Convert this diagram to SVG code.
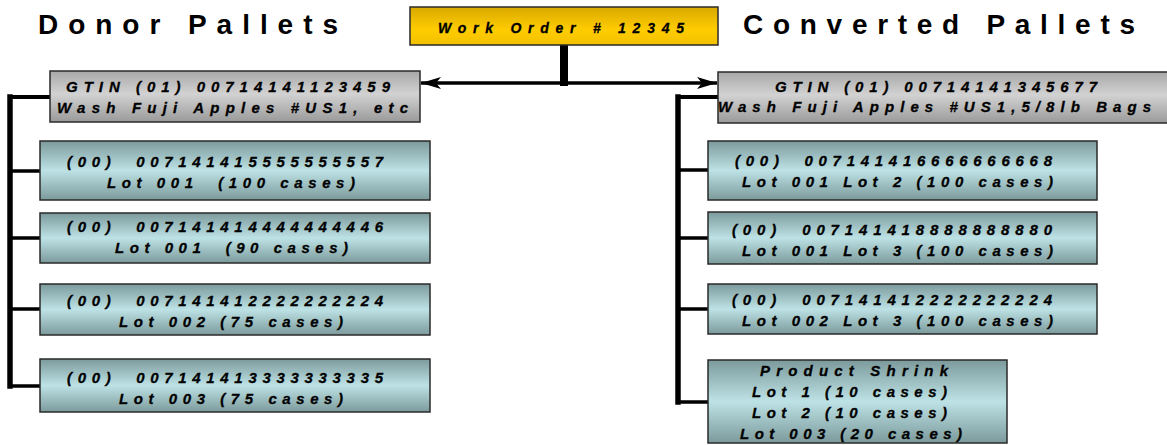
<svg xmlns="http://www.w3.org/2000/svg" width="1167" height="445" viewBox="0 0 1167 445">
<defs>
<linearGradient id="gLot" x1="0" y1="0" x2="0" y2="1">
<stop offset="0" stop-color="#7c9a9c"/>
<stop offset="0.5" stop-color="#bde2e5"/>
<stop offset="1" stop-color="#7c9a9c"/>
</linearGradient>
<linearGradient id="gGray" x1="0" y1="0" x2="0" y2="1">
<stop offset="0" stop-color="#a8a8a8"/>
<stop offset="0.45" stop-color="#d2d2d2"/>
<stop offset="1" stop-color="#9a9a9a"/>
</linearGradient>
<linearGradient id="gGold" x1="0" y1="0" x2="0" y2="1">
<stop offset="0" stop-color="#d9a800"/>
<stop offset="0.6" stop-color="#ffcc00"/>
<stop offset="1" stop-color="#f2c000"/>
</linearGradient>
<marker id="arr" viewBox="0 0 20 12" refX="20" refY="6" markerWidth="20" markerHeight="12" markerUnits="userSpaceOnUse" orient="auto">
<path d="M0,0 L20,6 L0,12 L5,6 Z" fill="#000"/>
</marker>
<style>
.title{font-family:"Liberation Sans",Arial,sans-serif;font-weight:bold;font-size:28px;fill:#000}
.t{font-family:"Liberation Sans",Arial,sans-serif;font-weight:bold;font-style:italic;font-size:15px;fill:#000;stroke:#000;stroke-width:0.3}
.wo{font-family:"Liberation Sans",Arial,sans-serif;font-weight:bold;font-style:italic;font-size:14px;fill:#000;stroke:#000;stroke-width:0.3}
.lot{fill:url(#gLot);stroke:#2a2a2a;stroke-width:1.5}
.gray{fill:url(#gGray);stroke:#2a2a2a;stroke-width:1.5}
.gold{fill:url(#gGold);stroke:#2a2a2a;stroke-width:1.5}
.c{fill:none;stroke:#000;stroke-linejoin:miter;stroke-linecap:square}
</style>
</defs>
<rect width="1167" height="445" fill="#fff"/>

<g id="title-donor"><text class="title" x="38" y="34" textLength="300" lengthAdjust="spacing">Donor Pallets</text></g>
<g id="title-converted"><text class="title" x="743" y="34" textLength="392" lengthAdjust="spacing">Converted Pallets</text></g>

<g id="connectors">
<line x1="564" y1="45" x2="564" y2="86" stroke="#000" stroke-width="8"/>
<line x1="564" y1="83" x2="421" y2="83" stroke="#000" stroke-width="3.5" marker-end="url(#arr)"/>
<line x1="564" y1="83" x2="717" y2="83" stroke="#000" stroke-width="3.5" marker-end="url(#arr)"/>
<path class="c" stroke-width="4" d="M51 97 H10"/>
<path class="c" stroke-width="5.5" d="M10 97 V386"/>
<path class="c" stroke-width="3.5" d="M10 171 H40 M10 238 H40 M10 309 H40 M10 386 H40"/>
<path class="c" stroke-width="4" d="M717 97 H678"/>
<path class="c" stroke-width="5.5" d="M678 97 V402"/>
<path class="c" stroke-width="3.5" d="M678 170 H708 M678 238 H708 M678 309 H708 M678 402 H708"/>
</g>

<g id="work-order">
<rect class="gold" x="410" y="7" width="308" height="38"/>
<text class="wo" x="438" y="33" textLength="246" lengthAdjust="spacing">Work Order # 12345</text>
</g>

<g id="donor-gtin">
<rect class="gray" x="50" y="71" width="370" height="51"/>
<text class="t" x="66" y="92" textLength="324" lengthAdjust="spacing">GTIN (01) 00714141123459</text>
<text class="t" x="57" y="113" textLength="351" lengthAdjust="spacing">Wash Fuji Apples #US1, etc</text>
</g>

<g id="donor-lot1">
<rect class="lot" x="40" y="141" width="390" height="59"/>
<text class="t" x="67" y="167" textLength="316" lengthAdjust="spacing">(00)&#160; 007141415555555557</text>
<text class="t" x="107" y="188" textLength="248" lengthAdjust="spacing">Lot 001&#160; (100 cases)</text>
</g>
<g id="donor-lot2">
<rect class="lot" x="40" y="213" width="390" height="50"/>
<text class="t" x="67" y="232" textLength="316" lengthAdjust="spacing">(00)&#160; 007141414444444446</text>
<text class="t" x="115" y="253" textLength="233" lengthAdjust="spacing">Lot 001&#160; (90 cases)</text>
</g>
<g id="donor-lot3">
<rect class="lot" x="40" y="284" width="390" height="51"/>
<text class="t" x="67" y="306" textLength="316" lengthAdjust="spacing">(00)&#160; 007141412222222224</text>
<text class="t" x="119" y="327" textLength="224" lengthAdjust="spacing">Lot 002 (75 cases)</text>
</g>
<g id="donor-lot4">
<rect class="lot" x="40" y="359" width="390" height="53"/>
<text class="t" x="67" y="383" textLength="316" lengthAdjust="spacing">(00)&#160; 007141413333333335</text>
<text class="t" x="119" y="404" textLength="224" lengthAdjust="spacing">Lot 003 (75 cases)</text>
</g>

<g id="converted-gtin">
<rect class="gray" x="718" y="72" width="452" height="51"/>
<text class="t" x="775" y="92" textLength="322" lengthAdjust="spacing">GTIN (01) 00714141345677</text>
<text class="t" x="718" y="112" textLength="433" lengthAdjust="spacing">Wash Fuji Apples #US1,5/8lb Bags</text>
</g>

<g id="converted-lot1">
<rect class="lot" x="708" y="141" width="389" height="59"/>
<text class="t" x="735" y="166" textLength="317" lengthAdjust="spacing">(00)&#160; 007141416666666668</text>
<text class="t" x="742" y="187" textLength="311" lengthAdjust="spacing">Lot 001 Lot 2 (100 cases)</text>
</g>
<g id="converted-lot2">
<rect class="lot" x="708" y="212" width="389" height="52"/>
<text class="t" x="732" y="235" textLength="320" lengthAdjust="spacing">(00)&#160; 007141418888888880</text>
<text class="t" x="742" y="256" textLength="311" lengthAdjust="spacing">Lot 001 Lot 3 (100 cases)</text>
</g>
<g id="converted-lot3">
<rect class="lot" x="708" y="284" width="389" height="50"/>
<text class="t" x="732" y="305" textLength="320" lengthAdjust="spacing">(00)&#160; 007141412222222224</text>
<text class="t" x="742" y="326" textLength="311" lengthAdjust="spacing">Lot 002 Lot 3 (100 cases)</text>
</g>
<g id="product-shrink">
<rect class="lot" x="708" y="360" width="299" height="83"/>
<text class="t" x="760" y="376" textLength="188" lengthAdjust="spacing">Product Shrink</text>
<text class="t" x="752" y="397" textLength="195" lengthAdjust="spacing">Lot 1 (10 cases)</text>
<text class="t" x="752" y="418" textLength="195" lengthAdjust="spacing">Lot 2 (10 cases)</text>
<text class="t" x="740" y="439" textLength="222" lengthAdjust="spacing">Lot 003 (20 cases)</text>
</g>
</svg>
